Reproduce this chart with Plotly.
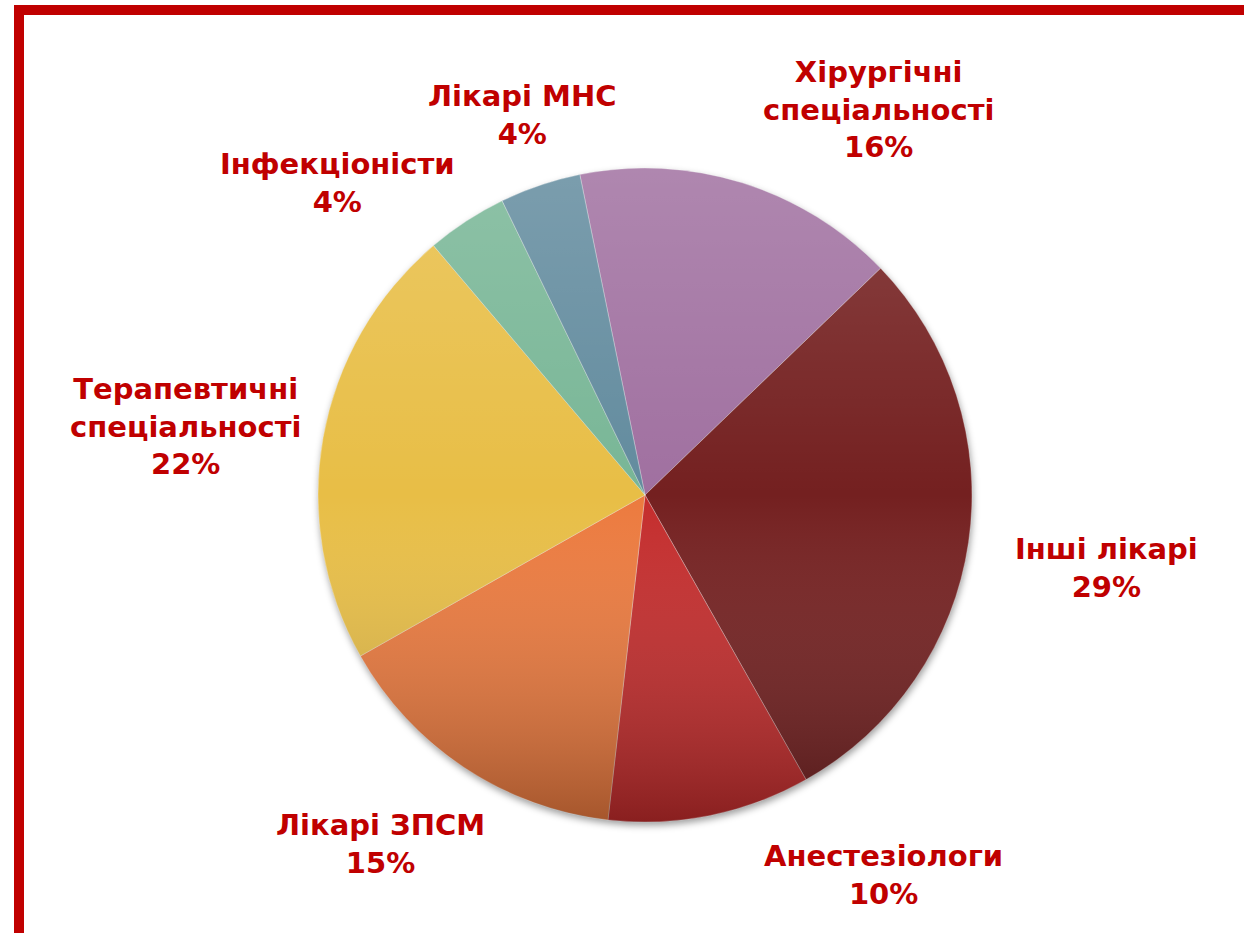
"""Pie chart: structure of doctors by specialty (Ukrainian labels)."""

import base64
import plotly.graph_objects as go

# ── Data ─────────────────────────────────────────────────────────────────────

labels = ["Хірургічні спеціальності", "Інші лікарі", "Анестезіологи", "Лікарі ЗПСМ",
          "Терапевтичні спеціальності", "Інфекціоністи", "Лікарі МНС"]
label_lines = ["Хірургічні<br>спеціальності", "Інші лікарі", "Анестезіологи", "Лікарі ЗПСМ",
               "Терапевтичні<br>спеціальності", "Інфекціоністи", "Лікарі МНС"]
values = [16, 29, 10, 15, 22, 4, 4]

SLICE_COLORS = ["#a070a0", "#742020", "#c42c2c", "#ec7a3e",
                "#e8be46", "#78b696", "#628b9e"]
TEXT_RED = "#c00000"

W, H = 1244, 933
CX, CY, R = 645, 495, 327          # pie centre / radius in pixels

# label block centres in pixels (x, y from top)
LABEL_POS = [(878, 110), (1106, 568), (883, 875), (380, 844),
             (185, 427), (337, 183), (522, 115)]


def _svg_uri(svg):
    return "data:image/svg+xml;base64," + base64.b64encode(svg.encode()).decode()


GRADIENT_SVG = """<svg xmlns='http://www.w3.org/2000/svg' viewBox='0 0 100 100'>
<defs><linearGradient id='g' x1='0' y1='0' x2='0' y2='1'>
<stop offset='0' stop-color='#ffffff' stop-opacity='0.16'/>
<stop offset='0.5' stop-color='#ffffff' stop-opacity='0'/>
<stop offset='1' stop-color='#000000' stop-opacity='0.3'/>
</linearGradient></defs>
<circle cx='50' cy='50' r='50' fill='url(#g)'/></svg>"""

SHADOW_SVG = """<svg xmlns='http://www.w3.org/2000/svg' viewBox='-10 -10 120 120'>
<defs><filter id='b' x='-20%' y='-20%' width='140%' height='140%'>
<feGaussianBlur stdDeviation='0.55'/></filter></defs>
<circle cx='50.15' cy='50.55' r='50' fill='#000000' fill-opacity='0.38' filter='url(#b)'/></svg>"""

# ── Figure ───────────────────────────────────────────────────────────────────

fig = go.Figure(go.Pie(
    labels=labels, values=values,
    sort=False, direction="clockwise", rotation=-11.5,
    marker=dict(colors=SLICE_COLORS, line=dict(color="rgba(255,255,255,0.3)", width=1)),
    textinfo="none", hoverinfo="label+percent",
    domain=dict(x=[(CX - R) / W, (CX + R) / W], y=[(H - CY - R) / H, (H - CY + R) / H]),
    showlegend=False,
))

total = sum(values)
annotations = []
for text, v, (px_, py_) in zip(label_lines, values, LABEL_POS):
    annotations.append(dict(
        text=f"<b>{text}<br>{v / total * 100:.0f}%</b>",
        x=px_ / W, y=1 - py_ / H, xref="paper", yref="paper",
        xanchor="center", yanchor="middle", showarrow=False, align="center",
        font=dict(family="DejaVu Sans, sans-serif", size=29, color=TEXT_RED),
    ))

images = [
    dict(source=_svg_uri(SHADOW_SVG), xref="paper", yref="paper",
         x=(CX - R * 1.2) / W, y=1 - (CY - R * 1.2) / H,
         sizex=2.4 * R / W, sizey=2.4 * R / H, sizing="stretch",
         xanchor="left", yanchor="top", layer="below"),
    dict(source=_svg_uri(GRADIENT_SVG), xref="paper", yref="paper",
         x=(CX - R) / W, y=1 - (CY - R) / H,
         sizex=2 * R / W, sizey=2 * R / H, sizing="stretch",
         xanchor="left", yanchor="top", layer="above"),
]

# red slide frame (top bar + left bar)
shapes = [
    dict(type="rect", xref="paper", yref="paper", x0=14 / W, x1=1, y0=1 - 15 / H, y1=1 - 5 / H,
         fillcolor=TEXT_RED, line=dict(width=0)),
    dict(type="rect", xref="paper", yref="paper", x0=14 / W, x1=24 / W, y0=0, y1=1 - 5 / H,
         fillcolor=TEXT_RED, line=dict(width=0)),
]

fig.update_layout(
    width=W, height=H,
    margin=dict(l=0, r=0, t=0, b=0),
    paper_bgcolor="white", plot_bgcolor="white",
    annotations=annotations, images=images, shapes=shapes,
)

# drop the browser's default 8px body margin so the figure sits at the page origin
fig.write_html("out.html", config={"displayModeBar": False},
               post_script="document.body.style.margin = '0';")
